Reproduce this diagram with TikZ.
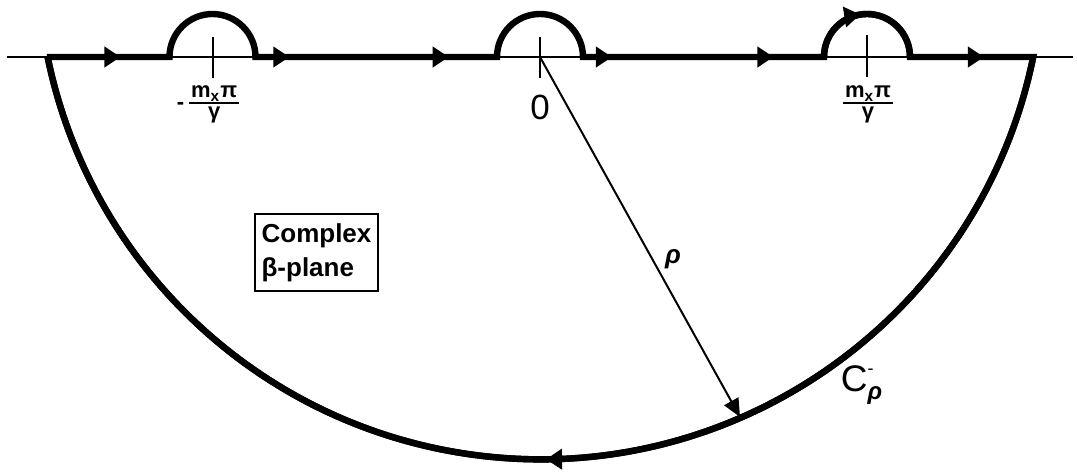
\documentclass[tikz,border=0pt]{standalone}
\usepackage{fontspec}
\setmainfont{Liberation Sans}
\usetikzlibrary{arrows.meta,decorations.markings}
\newcommand\barfrac[2]{{\setlength\arrayrulewidth{1pt}\renewcommand\arraystretch{0.8}%
  \begin{tabular}{@{\hspace{1pt}}c@{\hspace{1pt}}}#1\\[-1pt]\hline #2\end{tabular}}}
\tikzset{
  contour/.style={line width=3.2pt},
  thinline/.style={line width=1pt},
  tipmark/.style={postaction={decorate,decoration={markings,mark=at position #1 with {\arrow{Triangle[length=8pt,width=10pt]}}}}},
  fraclabel/.style={font=\fontsize{11}{13}\selectfont\bfseries, inner sep=0pt},
}
\begin{document}
\begin{tikzpicture}[x=0.5pt,y=0.5pt]
\useasboundingbox (0,0) rectangle (1077,475);
% axis
\coordinate (axL) at (7,418);
\coordinate (axR) at (1073,418);
\draw[thinline] (axL) -- (axR);
% contour points
\coordinate (L) at (46.8,418);
\coordinate (R) at (1033.2,418);
\coordinate (O) at (540,418);
\coordinate (A1) at (169.5,418);
\coordinate (A2) at (255.5,418);
\coordinate (B1) at (497,418);
\coordinate (B2) at (583,418);
\coordinate (C1) at (824,418);
\coordinate (C2) at (910,418);
% ticks
\draw[thinline] (212.5,438) -- (212.5,397);
\draw[thinline] (540,438) -- (540,397);
\draw[thinline] (867,440) -- (867,398);
% contour
\draw[contour] (L) -- (A1) arc[start angle=180,end angle=0,radius=43]
  -- (B1) arc[start angle=180,end angle=0,radius=43]
  -- (C1) arc[start angle=180,end angle=0,radius=43]
  -- (R) arc[start angle=348.45,end angle=191.55,radius=503] -- cycle;
% arrows on contour
\draw[contour,tipmark=0.6] (L) -- (A1);
\draw[contour,tipmark=0.14,tipmark=0.8] (A2) -- (B1);
\draw[contour,tipmark=0.12,tipmark=0.79] (B2) -- (C1);
\draw[contour,tipmark=0.60] (C2) -- (R);
\draw[contour,tipmark=0.45] (C1) arc[start angle=180,end angle=0,radius=43];
\draw[contour,tipmark=0.496] (R) arc[start angle=348.45,end angle=191.55,radius=503];
% radius
\coordinate (T) at (740,58);
\draw[thinline,-{Triangle[length=9pt,width=8pt]}] (O) -- (T);
% labels
\node[fraclabel] (lfrac) at (208,371) {-\hspace{2.5pt}\barfrac{m\textsubscript{x}π}{γ}};
\node[fraclabel] (rfrac) at (868,371) {\barfrac{m\textsubscript{x}π}{γ}};
\node[font=\fontsize{17.5}{20}\selectfont, inner sep=0pt] (zero) at (540,368) {0};
\node[font=\fontsize{13}{15}\selectfont\bfseries\itshape, inner sep=0pt] (rho) at (673,216) {ρ};
\node[font=\fontsize{18.5}{22}\selectfont, inner sep=0pt] (cp) at (862,90)
  {C$^{\mbox{\fontsize{9}{10}\selectfont\raisebox{2pt}{-}}}_{\mbox{\fontsize{12}{14}\selectfont\bfseries\itshape ρ}}$};
\node[draw, line width=1.2pt, minimum width=61.5pt, minimum height=38.5pt, align=left,
  font=\fontsize{13}{17}\selectfont\bfseries, inner sep=2pt] (box) at (316.5,222.5)
  {Complex\\β-plane};
\end{tikzpicture}
\end{document}
